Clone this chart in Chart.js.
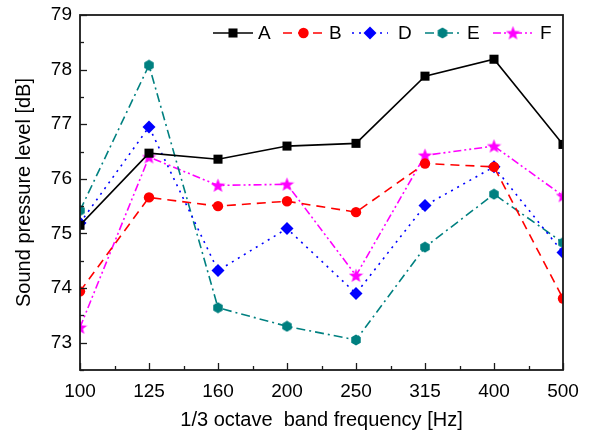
<!DOCTYPE html>
<html>
<head>
<meta charset="utf-8">
<script src="https://cdn.jsdelivr.net/npm/chart.js@4.4.1/dist/chart.umd.min.js"></script>
<style>
  html, body { margin: 0; padding: 0; background: #fff; }
  #wrap { width: 590px; height: 433px; }
</style>
</head>
<body>
<div id="wrap"><canvas id="chart" width="590" height="433"></canvas></div>
<script>
// categories (1/3 octave band centre frequencies)
const categories = ['100', '125', '160', '200', '250', '315', '400', '500'];

// series values, dB
const seriesA = [75.15, 76.47, 76.36, 76.60, 76.65, 77.88, 78.19, 76.63];
const seriesB = [73.94, 75.66, 75.50, 75.59, 75.39, 76.28, 76.22, 73.81];
const seriesD = [75.19, 76.95, 74.32, 75.09, 73.90, 75.51, 76.22, 74.65];
const seriesE = [75.42, 78.08, 73.64, 73.30, 73.05, 74.75, 75.72, 74.83];
const seriesF = [73.28, 76.40, 75.88, 75.90, 74.23, 76.43, 76.60, 75.69];

// y tick labels
const yTicks = [73, 74, 75, 76, 77, 78, 79];

function toPoints(arr){
  return arr.map((v, i) => ({ x: i, y: v }));
}

function makeHexagon(size, color){
  const c = document.createElement('canvas');
  c.width = size; c.height = size;
  const g = c.getContext('2d');
  const r = size / 2;
  g.beginPath();
  for (let i = 0; i < 6; i++){
    const a = Math.PI / 6 + i * Math.PI / 3;
    const px = r + (r - 0.5) * Math.cos(a);
    const py = r + (r - 0.5) * Math.sin(a);
    if (i === 0) g.moveTo(px, py); else g.lineTo(px, py);
  }
  g.closePath();
  g.fillStyle = color;
  g.fill();
  return c;
}

function makeStar(size, color){
  const c = document.createElement('canvas');
  c.width = size; c.height = size;
  const g = c.getContext('2d');
  const R = size / 2, r = R * 0.42;
  g.beginPath();
  for (let i = 0; i < 10; i++){
    const a = -Math.PI / 2 + i * Math.PI / 5;
    const rad = i % 2 === 0 ? R : r;
    const px = R + rad * Math.cos(a);
    const py = R + 0.5 + rad * Math.sin(a);
    if (i === 0) g.moveTo(px, py); else g.lineTo(px, py);
  }
  g.closePath();
  g.fillStyle = color;
  g.fill();
  return c;
}

const hexE = makeHexagon(12, '#008080');
const starF = makeStar(15, '#ff00ff');

function ds(label, data, color, dash, pointStyle, radius){
  return {
    label: label,
    data: toPoints(data),
    borderColor: color,
    backgroundColor: color,
    borderWidth: 1.6,
    borderDash: dash,
    pointStyle: pointStyle,
    pointRadius: radius,
    pointHoverRadius: radius,
    pointBorderWidth: 0,
    pointBackgroundColor: color,
    pointBorderColor: color,
    tension: 0,
    clip: 0
  };
}

const datasets = [
  ds('A', seriesA, '#000000', [], 'rect', 6.4),
  ds('B', seriesB, '#ff0000', [9, 6], 'circle', 5.2),
  ds('D', seriesD, '#0000ff', [2, 5], 'rectRot', 6.5),
  ds('E', seriesE, '#008080', [9, 4, 2, 4], hexE, 6),
  ds('F', seriesF, '#ff00ff', [8, 3, 2, 3, 2, 3], starF, 7)
];

// frame, inward ticks and legend
const framePlugin = {
  id: 'frame',
  afterDraw(chart){
    const ctx = chart.ctx;
    const a = chart.chartArea;
    ctx.save();
    ctx.strokeStyle = '#1a1a1a';
    ctx.lineWidth = 1.8;
    ctx.setLineDash([]);
    ctx.strokeRect(a.left, a.top, a.right - a.left, a.bottom - a.top);

    ctx.lineWidth = 1.3;
    const xs = chart.scales.x;
    xs.ticks.forEach(t => {
      const px = Math.round(xs.getPixelForValue(t.value)) + 0.5;
      const len = Number.isInteger(t.value) ? 7 : 4;
      ctx.beginPath();
      ctx.moveTo(px, a.bottom);
      ctx.lineTo(px, a.bottom - len);
      ctx.stroke();
    });
    const ys = chart.scales.y;
    ys.ticks.forEach(t => {
      const py = Math.round(ys.getPixelForValue(t.value)) + 0.5;
      const len = Number.isInteger(t.value) ? 7 : 4;
      ctx.beginPath();
      ctx.moveTo(a.left, py);
      ctx.lineTo(a.left + len, py);
      ctx.stroke();
    });

    // legend: line + marker + label
    const slots = [
      { x0: 213, x1: 253, tx: 258 },
      { x0: 283, x1: 324, tx: 329 },
      { x0: 352, x1: 388, tx: 398 },
      { x0: 425, x1: 460, tx: 467 },
      { x0: 493, x1: 533, tx: 540 }
    ];
    const ly = 33;
    ctx.font = '19px "Liberation Sans", Arial, sans-serif';
    ctx.textBaseline = 'middle';
    ctx.textAlign = 'left';
    chart.data.datasets.forEach((d, i) => {
      const s = slots[i];
      ctx.strokeStyle = d.borderColor;
      ctx.fillStyle = d.borderColor;
      ctx.lineWidth = d.borderWidth;
      ctx.setLineDash(d.borderDash);
      ctx.beginPath();
      ctx.moveTo(s.x0, ly);
      ctx.lineTo(s.x1, ly);
      ctx.stroke();
      ctx.setLineDash([]);
      Chart.helpers.drawPoint(ctx, {
        pointStyle: d.pointStyle,
        radius: d.pointRadius,
        rotation: 0,
        borderWidth: 0
      }, (s.x0 + s.x1) / 2, ly);
      ctx.fillStyle = '#000';
      ctx.fillText(d.label, s.tx, ly + 1);
    });
    ctx.restore();
  }
};

const tickFont = { family: '"Liberation Sans", Arial, sans-serif', size: 19 };
const titleFont = { family: '"Liberation Sans", Arial, sans-serif', size: 20 };

new Chart(document.getElementById('chart'), {
  type: 'line',
  data: { datasets: datasets },
  options: {
    responsive: false,
    animation: false,
    events: [],
    layout: { padding: { top: 15, right: 27, left: 0, bottom: 0 } },
    plugins: { legend: { display: false }, tooltip: { enabled: false } },
    scales: {
      x: {
        type: 'linear',
        min: 0,
        max: categories.length - 1,
        grid: { display: false },
        border: { display: false },
        ticks: {
          stepSize: 0.5,
          autoSkip: false,
          maxRotation: 0,
          padding: 2,
          color: '#000',
          font: tickFont,
          callback: v => Number.isInteger(v) ? categories[v] : ''
        },
        title: {
          display: true,
          text: '1/3 octave  band frequency [Hz]',
          color: '#000',
          font: titleFont,
          padding: { top: 0, bottom: 1 }
        },
        afterFit: s => { s.height = 63; }
      },
      y: {
        min: 72.5,
        max: 79,
        grid: { display: false },
        border: { display: false },
        ticks: {
          stepSize: 0.5,
          autoSkip: false,
          padding: 0,
          color: '#000',
          font: tickFont,
          callback: v => yTicks.includes(v) ? String(v) : ''
        },
        title: {
          display: true,
          text: 'Sound pressure level [dB]',
          color: '#000',
          font: titleFont,
          padding: { top: 12, bottom: 0 }
        },
        afterFit: s => { s.width = 80; }
      }
    }
  },
  plugins: [framePlugin]
});
</script>
</body>
</html>
